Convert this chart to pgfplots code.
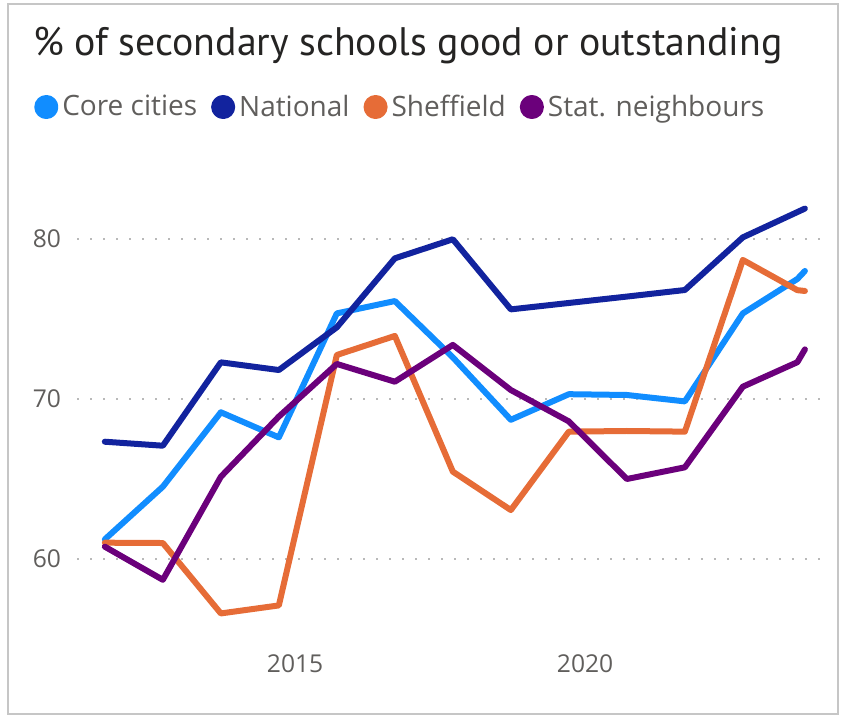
\documentclass[border=0pt]{standalone}
\usepackage{fontspec}
\setmainfont{Open Sans}
\newfontfamily\titlefont{PT Sans}
\usepackage{pgfplots}
\pgfplotsset{compat=1.18}
\definecolor{corecol}{HTML}{118DFF}
\definecolor{natcol}{HTML}{12239E}
\definecolor{shefcol}{HTML}{E66C37}
\definecolor{statcol}{HTML}{6B007B}
\definecolor{txtgray}{HTML}{605E5C}
\definecolor{titlecol}{HTML}{252423}

\begin{document}
\begin{tikzpicture}
\path[use as bounding box] (0,0) rectangle (421.5pt,359pt);
\draw[gray!45, line width=1pt] (4pt,2pt) rectangle (419pt,357pt);
\node[anchor=base west, inner sep=0, text=titlecol, font=\titlefont\fontsize{19.9pt}{22pt}\selectfont]
  at (16.5pt,331pt) {\% of secondary schools good or outstanding};
\begin{axis}[
    at={(38.5pt,39pt)}, anchor=south west,
    width=371.5pt, height=235pt, scale only axis,
    xmin=2011.24, xmax=2024.05,
    ymin=54.94, ymax=84.31,
    axis line style={draw=none},
    xtick={2015,2020}, ytick={60,70,80},
    major tick length=0pt,
    ymajorgrids,
    major grid style={draw=gray!55, line width=0.8pt, dash pattern=on 0.8pt off 5.7pt},
    /pgf/number format/assume math mode=true,
    /pgf/number format/set thousands separator={},
    tick label style={font=\fontsize{12.3pt}{14pt}\selectfont, text=txtgray},
    yticklabel style={anchor=east, xshift=-4.5pt},
    xticklabel style={anchor=north, yshift=-4pt},
    legend columns=4,
    legend style={at={(-0.058,1.134)}, anchor=west, draw=none, fill=none,
      inner sep=0pt, font=\fontsize{14pt}{16pt}\selectfont, text=txtgray,
      /tikz/every even column/.append style={column sep=5pt}},
    legend image code/.code={\fill[#1] (4.5pt,0) circle (4.5pt);},
    every axis plot/.append style={line width=3pt, line join=round, line cap=round},
    clip=false,
]
\addplot[corecol] coordinates {
  (2011.72,61.23)(2012.72,64.52)(2013.72,69.17)(2014.72,67.6)(2015.72,75.35)
  (2016.72,76.12)(2017.72,72.6)(2018.72,68.7)(2019.72,70.3)(2020.72,70.25)
  (2021.72,69.85)(2022.72,75.35)(2023.66,77.5)(2023.79,78.0)
};
\addplot[natcol] coordinates {
  (2011.72,67.33)(2012.72,67.08)(2013.72,72.29)(2014.72,71.81)(2015.72,74.48)
  (2016.72,78.79)(2017.72,79.98)(2018.72,75.6)(2019.72,76.0)(2020.72,76.4)
  (2021.72,76.81)(2022.72,80.1)(2023.79,81.9)
};
\addplot[shefcol] coordinates {
  (2011.72,61.02)(2012.72,61.0)(2013.72,56.6)(2014.72,57.1)(2015.72,72.75)
  (2016.72,73.94)(2017.72,65.46)(2018.72,63.06)(2019.72,67.96)(2020.72,68.0)
  (2021.72,67.96)(2022.72,78.69)(2023.66,76.8)(2023.79,76.75)
};
\addplot[statcol] coordinates {
  (2011.72,60.77)(2012.72,58.7)(2013.72,65.14)(2014.72,68.9)(2015.72,72.19)
  (2016.72,71.08)(2017.72,73.38)(2018.72,70.56)(2019.72,68.6)(2020.72,65.0)
  (2021.72,65.73)(2022.72,70.77)(2023.66,72.3)(2023.79,73.1)
};
\legend{Core cities,National,Sheffield,Stat. neighbours}
\end{axis}
\end{tikzpicture}
\end{document}
